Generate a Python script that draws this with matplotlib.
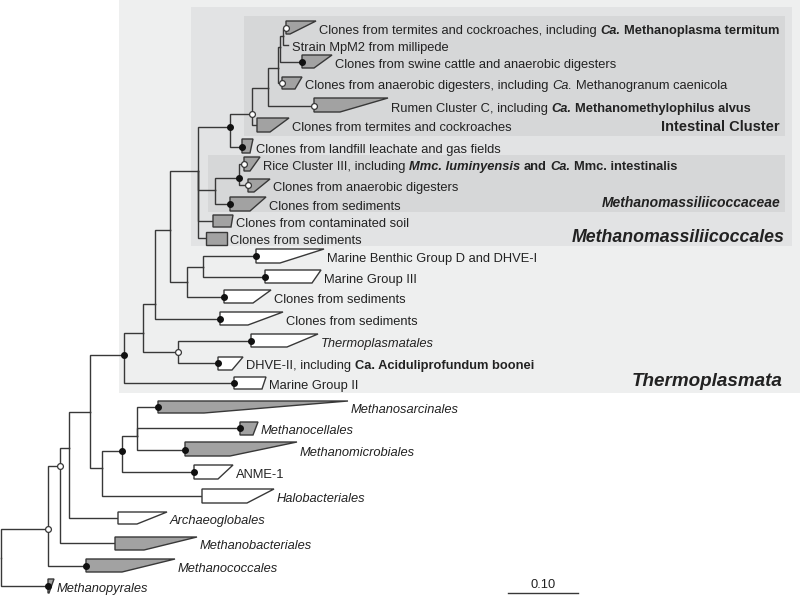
import matplotlib.pyplot as plt
from matplotlib.patches import Polygon, Rectangle

plt.rcParams['font.family'] = ['Liberation Sans', 'DejaVu Sans']

LINE = '#383838'
TEXT = '#222222'
GRAY = '#a2a2a2'
FS = 9.3

# tree nodes (x = distance from root, y = row), parent index, support marker
node_names = ['root', 'Na', 'Mpyr', 'Nb', 'Mcocc', 'Nc', 'Mbact', 'Nd', 'Archaeo',
              'T', 'Ne', 'Nf', 'Halo', 'Ng', 'ANME1', 'Sarc', 'Cell', 'Micro',
              'Q', 'MGII', 'P1', 'J', 'Tplasm', 'DHVE2', 'M0', 'sed2', 'A', 'H',
              'I', 'sed1', 'MBGD', 'MGIII', 'D6', 'E', 'soil', 'sedlast', 'C',
              'mmcsed', 'rice', 'anaer', 'D5', 'landfill', 'D4', 'tc', 'D3',
              'rumen', 'D2', 'anaer_incl', 'D1', 'swine', 'term_incl', 'mpm2']
node_parent = [None, 'root', 'root', 'Na', 'Na', 'Nb', 'Nb', 'Nc', 'Nc',
               'Nd', 'Nd', 'Ne', 'Ne', 'Nf', 'Nf', 'Ng', 'Ng', 'Ng',
               'T', 'T', 'Q', 'Q', 'J', 'J', 'P1', 'P1', 'M0', 'M0',
               'H', 'H', 'I', 'I', 'A', 'A', 'A', 'A', 'E',
               'E', 'C', 'C', 'D6', 'D6', 'D5', 'D5', 'D4',
               'D4', 'D3', 'D3', 'D2', 'D2', 'D1', 'D1']
node_x = [1, 48, 48, 60, 86, 69, 115, 90, 118,
          124, 102, 121.7, 202, 137, 194, 158, 240, 185,
          143, 234, 155, 178, 251, 218, 170, 220, 198, 187,
          203, 224, 256, 265, 230, 215, 213, 206, 239,
          230, 244, 248, 252, 242, 268, 257, 278,
          314, 280, 282, 283, 302, 286, 288]
node_y = [558, 529, 586, 466, 566, 448, 543, 412, 518,
          355, 468, 451, 496, 436, 472, 407, 428, 450,
          333, 383, 304, 352, 341, 363, 230, 319, 171, 282,
          267, 297, 256, 277, 127, 190, 221, 238, 178,
          204, 164, 185, 114, 147, 88, 125, 68,
          106, 47, 83, 36, 62, 28, 45]
node_support = ['', 'mid', 'high', 'mid', 'high', '', '', '', '',
                'high', '', 'high', '', '', 'high', 'high', 'high', 'high',
                '', 'high', '', 'mid', 'high', 'high', '', 'high', '', '',
                '', 'high', 'high', 'high', 'high', '', '', '', 'high',
                'high', 'mid', 'mid', 'mid', 'high', '', '', '',
                'mid', '', 'mid', '', 'high', 'mid', '']

# collapsed clades
clade_node = ['term_incl', 'swine', 'anaer_incl', 'rumen', 'tc', 'landfill', 'rice',
              'anaer', 'mmcsed', 'soil', 'sedlast', 'MBGD', 'MGIII', 'sed1', 'sed2',
              'Tplasm', 'DHVE2', 'MGII', 'Sarc', 'Cell', 'Micro', 'ANME1', 'Halo',
              'Archaeo', 'Mbact', 'Mcocc', 'Mpyr']
clade_top = [21, 55, 77, 98, 118, 139, 157, 179, 197, 215, 232, 249, 270, 290, 312,
             334, 357, 377, 401, 422, 442, 465, 489, 512, 537, 559, 579]
clade_bottom = [34, 68, 89, 112, 132, 153, 171, 192, 211, 227, 245, 263, 283, 303, 325,
                347, 370, 389, 413, 435, 456, 479, 503, 524, 550, 572, 593]
clade_depth_max = [316, 332, 302, 388, 289, 253, 260, 270, 266, 233, 227, 324, 321, 271, 283,
                   318, 243, 266, 348, 258, 297, 233, 274, 167, 197, 175, 54]
clade_depth_min = [290, 314, 295, 340, 270, 250, 250, 254, 250, 231, 227, 280, 312, 253, 248,
                   287, 232, 262, 204, 253, 230, 218, 247, 137, 144, 122, 49]
clade_methanogen = [True, True, True, True, True, True, True, True, True, True, True,
                    False, False, False, False, False, False, False, True, True, True,
                    False, False, False, True, True, True]
clade_labels = [
    [('Clones from termites and cockroaches, including', 'n'), ('Ca.', 'bi'),
     ('Methanoplasma termitum', 'b')],
    [('Clones from swine cattle and anaerobic digesters', 'n')],
    [('Clones from anaerobic digesters, including', 'n'), ('Ca.', 'i'),
     ('Methanogranum caenicola', 'n')],
    [('Rumen Cluster C, including', 'n'), ('Ca.', 'bi'), ('Methanomethylophilus alvus', 'b')],
    [('Clones from termites and cockroaches', 'n')],
    [('Clones from landfill leachate and gas fields', 'n')],
    [('Rice Cluster III, including', 'n'), ('Mmc. luminyensis', 'bi'), ('and', 'b'),
     ('Ca.', 'bi'), ('Mmc. intestinalis', 'b')],
    [('Clones from anaerobic digesters', 'n')],
    [('Clones from sediments', 'n')],
    [('Clones from contaminated soil', 'n')],
    [('Clones from sediments', 'n')],
    [('Marine Benthic Group D and DHVE-I', 'n')],
    [('Marine Group III', 'n')],
    [('Clones from sediments', 'n')],
    [('Clones from sediments', 'n')],
    [('Thermoplasmatales', 'i')],
    [('DHVE-II, including', 'n'), ('Ca. Aciduliprofundum boonei', 'b')],
    [('Marine Group II', 'n')],
    [('Methanosarcinales', 'i')],
    [('Methanocellales', 'i')],
    [('Methanomicrobiales', 'i')],
    [('ANME-1', 'n')],
    [('Halobacteriales', 'i')],
    [('Archaeoglobales', 'i')],
    [('Methanobacteriales', 'i')],
    [('Methanococcales', 'i')],
    [('Methanopyrales', 'i')],
]
leaf_labels = {'mpm2': 'Strain MpM2 from millipede'}

# highlighted groups
group_names = ['Thermoplasmata', 'Methanomassiliicoccales', 'Intestinal Cluster',
               'Methanomassiliicoccaceae']
group_left = [119, 191, 244, 208]
group_top = [0, 7, 16, 155]
group_right = [800, 792, 785, 785]
group_bottom = [393, 246, 136, 212]
group_color = ['#eeefef', '#e2e3e4', '#d6d7d8', '#d6d7d8']
group_label_x = [783, 785, 780, 780]
group_label_y = [381, 238, 127, 203]
group_label_size = [13.6, 12.8, 10.5, 10.0]
group_label_italic = [True, True, False, True]

scale_value = 0.10
px_per_unit = 700

fig = plt.figure(figsize=(8, 5.96), dpi=100)
ax = fig.add_axes([0, 0, 1, 1])
ax.set_xlim(0, 800)
ax.set_ylim(596, 0)
ax.axis('off')

for i, g in enumerate(group_names):
    ax.add_patch(Rectangle((group_left[i], group_top[i]),
                           group_right[i] - group_left[i], group_bottom[i] - group_top[i],
                           facecolor=group_color[i], edgecolor='none', zorder=0))
    ax.text(group_label_x[i], group_label_y[i], g, fontsize=group_label_size[i],
            fontweight='bold', fontstyle='italic' if group_label_italic[i] else 'normal',
            ha='right', va='center', color=TEXT, zorder=5)

idx = {n: i for i, n in enumerate(node_names)}

# branches
for i, n in enumerate(node_names):
    p = node_parent[i]
    if p is None:
        continue
    j = idx[p]
    ax.plot([node_x[j], node_x[j], node_x[i]], [node_y[j], node_y[i], node_y[i]],
            color=LINE, lw=1.0, solid_joinstyle='miter', zorder=1)

# collapsed clades
for k, n in enumerate(clade_node):
    i = idx[n]
    x0 = node_x[i]
    pts = [(x0, clade_top[k]), (clade_depth_max[k], clade_top[k]),
           (clade_depth_min[k], clade_bottom[k]), (x0, clade_bottom[k])]
    ax.add_patch(Polygon(pts, closed=True, facecolor=GRAY if clade_methanogen[k] else 'white',
                         edgecolor=LINE, lw=1.0, zorder=2))

# support markers
for i, n in enumerate(node_names):
    if node_support[i] == 'high':
        ax.plot(node_x[i], node_y[i], 'o', ms=4.0, mfc='#111111', mec='#111111', zorder=4)
    elif node_support[i] == 'mid':
        ax.plot(node_x[i], node_y[i], 'o', ms=4.2, mfc='white', mec=LINE, mew=0.9, zorder=4)

renderer = fig.canvas.get_renderer()
space = FS * 100 / 72 * 0.278


def draw_label(x, y, parts):
    # y is the baseline, pieces are placed one after the other
    for s, kind in parts:
        t = ax.text(x, y, s, fontsize=FS, color=TEXT, ha='left', va='baseline',
                    fontweight='bold' if 'b' in kind else 'normal',
                    fontstyle='italic' if 'i' in kind else 'normal', zorder=5)
        x += t.get_window_extent(renderer).width + space


for k, n in enumerate(clade_node):
    i = idx[n]
    draw_label(clade_depth_max[k] + 3, node_y[i] + 6, clade_labels[k])

for n, lab in leaf_labels.items():
    i = idx[n]
    draw_label(node_x[i] + 4, node_y[i] + 5.5, [(lab, 'n')])

# scale bar
x0 = 508
ax.plot([x0, x0 + scale_value * px_per_unit], [593, 593], color=LINE, lw=1.0)
ax.text(x0 + scale_value * px_per_unit / 2, 585, '%.2f' % scale_value, fontsize=FS,
        ha='center', va='center', color=TEXT)

fig.savefig('out.png', dpi=100)
